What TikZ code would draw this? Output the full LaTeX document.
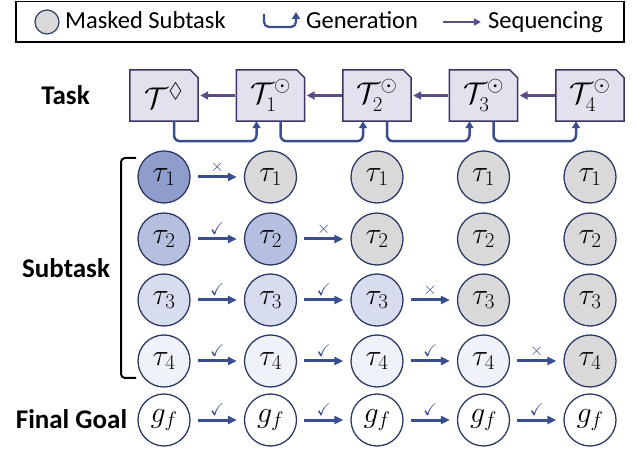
\RequirePackage{fix-cm}
\documentclass[tikz,border=0pt]{standalone}
\usepackage{amssymb}
\usepackage{fontspec}
\newfontfamily\calib{Carlito}
\usetikzlibrary{arrows.meta,backgrounds}
\definecolor{masked}{HTML}{D9D9D9}
\definecolor{row1}{HTML}{8F9DCC}
\definecolor{row2}{HTML}{B5C0E1}
\definecolor{row3}{HTML}{D7DDEF}
\definecolor{row4}{HTML}{F0F2F9}
\definecolor{navy}{HTML}{2E3A66}
\definecolor{flowc}{HTML}{3A4E8F}
\definecolor{seqc}{HTML}{5D4B8A}
\definecolor{boxfill}{HTML}{E4E1EE}
\definecolor{boxline}{HTML}{3C3465}
\begin{document}
\begin{tikzpicture}[x=1pt,y=-1pt,
  sub/.style={circle, draw=navy, line width=1.3pt, minimum size=52pt, inner sep=0pt, font=\fontsize{30}{32}\selectfont},
  tbox/.style={minimum width=68pt, minimum height=51pt, inner sep=0pt, font=\fontsize{30}{32}\selectfont},
  tboxline/.style={fill=boxfill, draw=boxline, line width=1.5pt, line join=miter},
  flow/.style={draw=flowc, line width=3pt, -{Triangle[length=9pt,width=8pt]}, shorten <=7pt, shorten >=7pt},
  lbl/.style={above=3pt, inner sep=0pt, text=flowc, font=\fontsize{17}{17}\selectfont},
  seq/.style={draw=seqc, line width=3pt, -{Triangle[length=8pt,width=8pt]}, shorten <=1pt, shorten >=2pt},
  gen/.style={draw=flowc, line width=2.5pt, rounded corners=6pt, -{Triangle[length=7pt,width=8pt]}},
  sidelab/.style={font=\calib\bfseries\fontsize{27}{30}\selectfont, inner sep=0pt},
  legtext/.style={font=\calib\fontsize{24.5}{28}\selectfont, inner sep=0pt, anchor=base west},
  brk/.style={draw=black, line width=2pt, rounded corners=4pt}
]
\useasboundingbox (0,0) rectangle (638,449);
% legend
\draw[black, line width=1.3pt] (16,1.5) rectangle (624,42);
\node[circle, draw=navy, fill=masked, line width=1.2pt, minimum size=24pt, inner sep=0pt] (lc) at (47,22) {};
\node[legtext] (lt1) at (65,29) {Masked Subtask};
\coordinate (g1a) at (264,14);
\coordinate (g1b) at (296,12);
\draw[gen, line width=2.2pt, rounded corners=5pt] (g1a) -- (264,27) -| (g1b);
\node[legtext] (lt2) at (306,29) {Generation};
\coordinate (s1a) at (443,22);
\coordinate (s1b) at (481,22);
\draw[seq, shorten <=0pt, shorten >=0pt, line width=2.5pt, -{Triangle[length=7pt,width=7pt]}] (s1a) -- (s1b);
\node[legtext] (lt3) at (488,29) {Sequencing};
% side labels
\node[sidelab] (ltask) at (65.5,95) {Task};
\node[sidelab] (lsub) at (66,268) {Subtask};
\node[sidelab] (lfin) at (71.5,419) {Final Goal};
\draw[brk] (136,158) -- (121,158) -- (121,378) -- (136,378);
% task boxes
\node[tbox] (T0) at (164,95.5) {$\mathcal{T}^{\lozenge}$};
\node[tbox] (T1) at (270.5,95.5) {$\mathcal{T}_1^{\odot}$};
\node[tbox] (T2) at (377,95.5) {$\mathcal{T}_2^{\odot}$};
\node[tbox] (T3) at (483.5,95.5) {$\mathcal{T}_3^{\odot}$};
\node[tbox] (T4) at (590,95.5) {$\mathcal{T}_4^{\odot}$};
\begin{scope}[on background layer]
\foreach \n in {T0,T1,T2,T3,T4}{
  \filldraw[tboxline] (\n.south west) -- (\n.north west) -- ([xshift=-8pt]\n.north east) -- ([yshift=-8pt]\n.north east) -- (\n.south east) -- cycle;
}
\end{scope}
\foreach \a/\b in {T1/T0,T2/T1,T3/T2,T4/T3}{
  \draw[seq] (\a.west) -- (\b.east);
}
\foreach \a/\b in {T0/T1,T1/T2,T2/T3,T3/T4}{
  \draw[gen] ([xshift=10pt]\a.south) -- ++(0,20) -| ([xshift=-14pt]\b.south);
}
% subtask grid
\foreach \x [count=\i] in {164,270.5,377,483.5,590}{
  \foreach \j/\ry in {1/177,2/239,3/300,4/361}{
    \ifnum\i>\j \def\fc{masked}\else \def\fc{row\j}\fi
    \node[sub, fill=\fc] (c\j\i) at (\x,\ry) {$\tau_{\j}$};
  }
  \node[sub, fill=white] (g\i) at (\x,420) {$g_f$};
}
\foreach \j in {1,...,4}{
  \foreach \i in {1,...,\j}{
    \pgfmathtruncatemacro\k{\i+1}
    \ifnum\i<\j \def\mk{$\checkmark$}\else \def\mk{$\times$}\fi
    \draw[flow] (c\j\i) -- node[lbl]{\mk} (c\j\k);
  }
}
\foreach \i in {1,...,4}{
  \pgfmathtruncatemacro\k{\i+1}
  \draw[flow] (g\i) -- node[lbl]{$\checkmark$} (g\k);
}
\end{tikzpicture}
\end{document}
